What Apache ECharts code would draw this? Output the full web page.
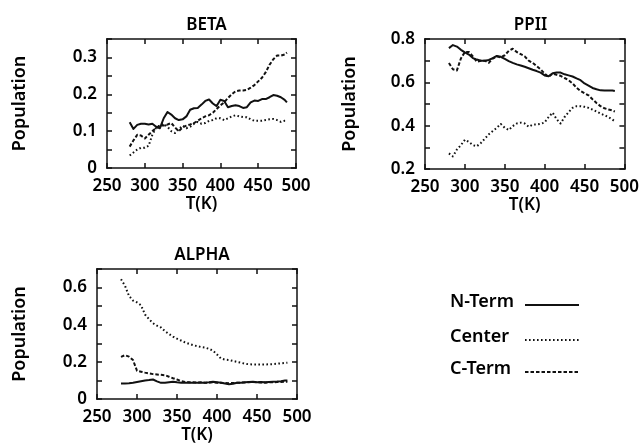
<!DOCTYPE html>
<html>
<head>
<meta charset="utf-8">
<script src="https://cdn.jsdelivr.net/npm/echarts@6/dist/echarts.min.js"></script>
<style>html,body{margin:0;padding:0;background:#fff;}#c{width:642px;height:447px;}</style>
</head>
<body>
<div id="c"></div>
<script>
const temps = [280,285,290,295,300,305,310,315,320,325,330,335,340,345,350,355,360,365,370,375,380,385,390,395,400,405,410,415,420,425,430,435,440,445,450,455,460,465,470,475,480,485,488];
const seriesNames = ['N-Term','Center','C-Term'];
const panelTitles = ['BETA','PPII','ALPHA'];
const xTicks = [250,300,350,400,450,500];

const betaN = [0.124,0.106,0.117,0.12,0.12,0.118,0.12,0.112,0.108,0.135,0.152,0.145,0.135,0.13,0.132,0.14,0.158,0.162,0.163,0.172,0.182,0.186,0.175,0.168,0.185,0.182,0.165,0.168,0.17,0.168,0.163,0.165,0.178,0.183,0.182,0.187,0.187,0.192,0.198,0.196,0.192,0.185,0.178];
const betaCenter = [0.034,0.042,0.05,0.055,0.055,0.06,0.09,0.11,0.115,0.12,0.112,0.1,0.095,0.105,0.115,0.108,0.112,0.12,0.125,0.12,0.122,0.128,0.13,0.135,0.135,0.13,0.135,0.14,0.143,0.14,0.138,0.138,0.132,0.128,0.128,0.128,0.13,0.132,0.133,0.13,0.125,0.128,0.128];
const betaC = [0.058,0.075,0.09,0.088,0.08,0.09,0.1,0.108,0.115,0.115,0.118,0.122,0.11,0.1,0.11,0.115,0.118,0.122,0.128,0.135,0.14,0.143,0.15,0.16,0.17,0.178,0.19,0.2,0.208,0.21,0.21,0.212,0.218,0.225,0.235,0.245,0.26,0.28,0.295,0.305,0.305,0.308,0.313];

const ppiiN = [0.758,0.772,0.765,0.75,0.738,0.728,0.712,0.705,0.70,0.70,0.703,0.712,0.722,0.718,0.708,0.698,0.69,0.683,0.678,0.672,0.665,0.658,0.652,0.645,0.632,0.628,0.642,0.645,0.645,0.637,0.632,0.627,0.618,0.61,0.595,0.585,0.574,0.568,0.563,0.562,0.562,0.562,0.56];
const ppiiCenter = [0.272,0.258,0.29,0.31,0.335,0.325,0.31,0.305,0.32,0.34,0.36,0.375,0.39,0.408,0.39,0.38,0.398,0.41,0.414,0.41,0.395,0.405,0.405,0.408,0.415,0.44,0.46,0.43,0.41,0.44,0.462,0.482,0.49,0.49,0.487,0.482,0.474,0.465,0.456,0.448,0.44,0.428,0.42];
const ppiiC = [0.689,0.66,0.655,0.71,0.74,0.74,0.72,0.695,0.70,0.70,0.69,0.71,0.72,0.715,0.725,0.745,0.755,0.74,0.73,0.72,0.70,0.69,0.675,0.66,0.64,0.625,0.64,0.635,0.63,0.62,0.61,0.595,0.575,0.56,0.55,0.54,0.522,0.505,0.49,0.48,0.475,0.47,0.465];

const alphaN = [0.084,0.084,0.085,0.088,0.092,0.096,0.1,0.102,0.105,0.095,0.087,0.087,0.09,0.093,0.09,0.088,0.087,0.088,0.087,0.088,0.087,0.088,0.09,0.093,0.09,0.087,0.084,0.08,0.082,0.087,0.088,0.09,0.092,0.093,0.09,0.091,0.09,0.092,0.093,0.094,0.096,0.1,0.1];
const alphaCenter = [0.645,0.61,0.555,0.53,0.52,0.505,0.455,0.43,0.408,0.395,0.385,0.365,0.35,0.336,0.325,0.315,0.305,0.297,0.29,0.285,0.28,0.277,0.27,0.26,0.24,0.218,0.212,0.21,0.205,0.2,0.195,0.19,0.187,0.186,0.186,0.186,0.186,0.187,0.188,0.19,0.192,0.194,0.195];
const alphaC = [0.227,0.236,0.228,0.21,0.152,0.147,0.142,0.138,0.134,0.132,0.13,0.128,0.12,0.112,0.105,0.097,0.092,0.09,0.09,0.088,0.09,0.088,0.087,0.09,0.088,0.087,0.086,0.085,0.086,0.088,0.088,0.089,0.09,0.092,0.09,0.089,0.088,0.09,0.09,0.091,0.092,0.093,0.093];

const FONT = 'Noto Sans';
const INK = '#111';
const styles = [
  {type:'solid', width:2},
  {type:[1.6,2.4], width:2},
  {type:[3.5,2], width:2}
];

const panels = [
  {grid:{left:107, top:39, width:189, height:129}, ymin:0, ymax:0.35, yint:0.05, every:2, data:[betaN,betaCenter,betaC], yGap:78},
  {grid:{left:425, top:39, width:201, height:130}, ymin:0.2, ymax:0.8, yint:0.1, every:2, data:[ppiiN,ppiiCenter,ppiiC], yGap:66},
  {grid:{left:97, top:269, width:200, height:130}, ymin:0, ymax:0.7, yint:0.1, every:2, data:[alphaN,alphaCenter,alphaC], yGap:68}
];

const grids=[], xAxes=[], yAxes=[], series=[], titles=[];
function mkLine(){ return {show:true, onZero:false, lineStyle:{color:INK, width:1.5, cap:'square'}}; }
function mkTick(){ return {show:true, inside:true, length:5, lineStyle:{color:INK, width:1.5}}; }
const labelFont = () => ({fontFamily:FONT, fontSize:17, fontWeight:600, color:'#000'});
panels.forEach((p,i)=>{
  grids.push(Object.assign({containLabel:false}, p.grid));
  const xb = {type:'value', gridIndex:i, min:xTicks[0], max:xTicks[xTicks.length-1], interval:50, position:'bottom',
    axisLine:mkLine(), axisTick:mkTick(),
    axisLabel:Object.assign({show:true, margin:10, showMinLabel:true, showMaxLabel:true}, labelFont()),
    splitLine:{show:false}, name:'T(K)', nameLocation:'middle', nameGap:27, nameTextStyle:labelFont()};
  const xt = {type:'value', gridIndex:i, min:xTicks[0], max:xTicks[xTicks.length-1], interval:50, position:'top',
    axisLine:mkLine(), axisTick:mkTick(), axisLabel:{show:false}, splitLine:{show:false}};
  xAxes.push(xb, xt);
  const fmt = v => { const k = Math.round(v / p.yint); return (k % p.every === 0) ? String(Math.round(v*10)/10) : ''; };
  const yl = {type:'value', gridIndex:i, min:p.ymin, max:p.ymax, interval:p.yint, position:'left',
    axisLine:mkLine(), axisTick:mkTick(),
    axisLabel:Object.assign({show:true, margin:10, formatter:fmt, showMinLabel:true, showMaxLabel:true}, labelFont()),
    splitLine:{show:false}, name:'Population', nameLocation:'middle', nameGap:p.yGap, nameTextStyle:Object.assign(labelFont(), {fontSize:18})};
  const yr = {type:'value', gridIndex:i, min:p.ymin, max:p.ymax, interval:p.yint, position:'right',
    axisLine:mkLine(), axisTick:mkTick(), axisLabel:{show:false}, splitLine:{show:false}};
  yAxes.push(yl, yr);
  p.data.forEach((arr,s)=>{
    series.push({type:'line', name:seriesNames[s], xAxisIndex:2*i, yAxisIndex:2*i, symbol:'none', silent:true, animation:false,
      lineStyle:{color:INK, width:styles[s].width, type:styles[s].type, cap:'butt', join:'round'},
      data: temps.map((t,k)=>[t, arr[k]])});
  });
  titles.push({text:panelTitles[i], left:p.grid.left + p.grid.width/2, top:p.grid.top - 19, textAlign:'center', textVerticalAlign:'middle',
    textStyle:{fontFamily:FONT, fontSize:17, fontWeight:600, color:'#000'}});
});

// legend drawn as graphic
const legendY = [305, 340, 372];
const graphics = [];
seriesNames.forEach((n,s)=>{
  graphics.push({type:'text', left:450, top:legendY[s]-12, style:{text:n, fontFamily:FONT, fontSize:18, fontWeight:600, fill:'#000'}});
  graphics.push({type:'line', shape:{x1:525, y1:legendY[s], x2:579, y2:legendY[s]},
    style:{stroke:INK, lineWidth:styles[s].width, lineDash: styles[s].type === 'solid' ? null : styles[s].type}});
});

const chart = echarts.init(document.getElementById('c'), null, {renderer:'canvas'});
chart.setOption({
  animation:false,
  backgroundColor:'#fff',
  title:titles,
  grid:grids,
  xAxis:xAxes,
  yAxis:yAxes,
  series:series,
  graphic:graphics
});
</script>
</body>
</html>
